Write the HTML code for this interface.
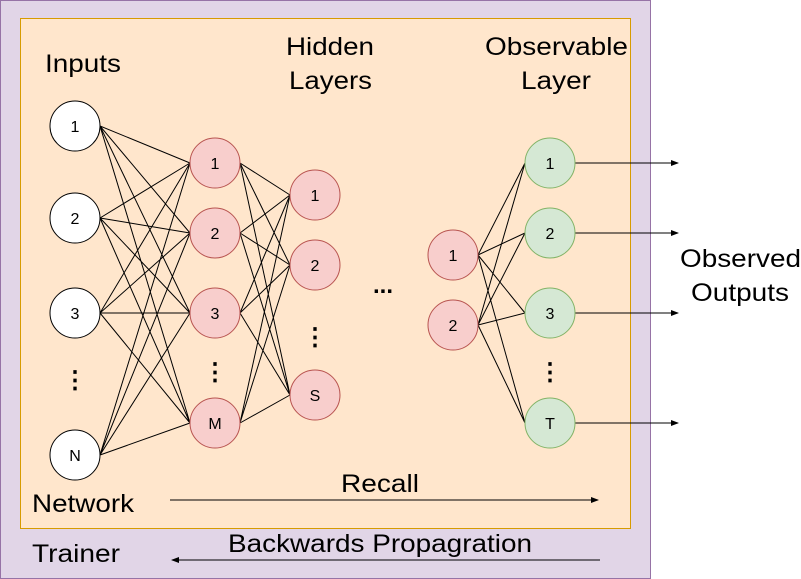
<!DOCTYPE html>
<html><head><style>body{margin:0;background:#fff}svg{display:block}text{font-family:"Liberation Sans",sans-serif}</style></head><body>
<svg width="801" height="579" xmlns="http://www.w3.org/2000/svg">
<defs><marker id="a" markerWidth="8" markerHeight="8" refX="7" refY="4" orient="auto" markerUnits="userSpaceOnUse"><path d="M0,1 L8,4 L0,7 Z" fill="#000"/></marker></defs>
<rect x="0.5" y="0.5" width="650" height="578" fill="#e1d5e7" stroke="#9673a6"/>
<rect x="20.5" y="18.5" width="610" height="510" fill="#ffe6cc" stroke="#d79b00"/>
<g stroke="#000" stroke-width="1">
<path d="M100,126L190,163M100,126L190,233M100,126L190,313M100,126L190,423
M100,218L190,163M100,218L190,233M100,218L190,313M100,218L190,423
M100,313L190,163M100,313L190,233M100,313L190,313M100,313L190,423
M100,455L190,163M100,455L190,233M100,455L190,313M100,455L190,423"/>
<path d="M240,163L290,195M240,163L290,265M240,163L290,395
M240,233L290,195M240,233L290,265M240,233L290,395
M240,313L290,195M240,313L290,265M240,313L290,395
M240,423L290,195M240,423L290,265M240,423L290,395"/>
<path d="M478,255L525,163M478,255L525,233M478,255L525,313M478,255L525,423
M478,325L525,163M478,325L525,233M478,325L525,313M478,325L525,423"/>
<path d="M575,163H678" marker-end="url(#a)"/>
<path d="M575,233H678" marker-end="url(#a)"/>
<path d="M575,313H678" marker-end="url(#a)"/>
<path d="M575,423H678" marker-end="url(#a)"/>
<path d="M170,500H598" marker-end="url(#a)"/>
<path d="M600,560H172" marker-end="url(#a)"/>
</g>
<g font-size="16" text-anchor="middle">
<g fill="#fff" stroke="#000">
<circle cx="75" cy="126" r="25"/><circle cx="75" cy="218" r="25"/><circle cx="75" cy="313" r="25"/><circle cx="75" cy="455" r="25"/>
</g>
<g fill="#f8cecc" stroke="#b85450">
<circle cx="215" cy="163" r="25"/><circle cx="215" cy="233" r="25"/><circle cx="215" cy="313" r="25"/><circle cx="215" cy="423" r="25"/>
<circle cx="315" cy="195" r="25"/><circle cx="315" cy="265" r="25"/><circle cx="315" cy="395" r="25"/>
<circle cx="453" cy="255" r="25"/><circle cx="453" cy="325" r="25"/>
</g>
<g fill="#d5e8d4" stroke="#82b366">
<circle cx="550" cy="163" r="25"/><circle cx="550" cy="233" r="25"/><circle cx="550" cy="313" r="25"/><circle cx="550" cy="423" r="25"/>
</g>
<text x="75" y="132">1</text><text x="75" y="224">2</text><text x="75" y="319">3</text><text x="75" y="461">N</text>
<text x="215" y="169">1</text><text x="215" y="239">2</text><text x="215" y="319">3</text><text x="215" y="429">M</text>
<text x="315" y="201">1</text><text x="315" y="271">2</text><text x="315" y="401">S</text>
<text x="453" y="261">1</text><text x="453" y="331">2</text>
<text x="550" y="169">1</text><text x="550" y="239">2</text><text x="550" y="319">3</text><text x="550" y="429">T</text>
</g>
<g font-size="24" font-weight="bold" text-anchor="middle">
<text x="75" y="388">⋮</text><text x="215" y="380">⋮</text><text x="315" y="345">⋮</text><text x="550" y="380">⋮</text>
<text x="383" y="293">...</text>
</g>
<g font-size="25" lengthAdjust="spacingAndGlyphs">
<text x="45" y="72" textLength="76" lengthAdjust="spacingAndGlyphs">Inputs</text>
<text x="286" y="55" textLength="88" lengthAdjust="spacingAndGlyphs">Hidden</text>
<text x="289" y="89" textLength="83" lengthAdjust="spacingAndGlyphs">Layers</text>
<text x="485" y="55" textLength="143" lengthAdjust="spacingAndGlyphs">Observable</text>
<text x="521" y="89" textLength="70" lengthAdjust="spacingAndGlyphs">Layer</text>
<text x="680" y="267" textLength="121" lengthAdjust="spacingAndGlyphs">Observed</text>
<text x="691" y="301" textLength="98" lengthAdjust="spacingAndGlyphs">Outputs</text>
<text x="341" y="492" textLength="78" lengthAdjust="spacingAndGlyphs">Recall</text>
<text x="32" y="512" textLength="102" lengthAdjust="spacingAndGlyphs">Network</text>
<text x="228" y="552" textLength="304" lengthAdjust="spacingAndGlyphs">Backwards Propagration</text>
<text x="32" y="562" textLength="88" lengthAdjust="spacingAndGlyphs">Trainer</text>
</g>
</svg>
</body></html>
